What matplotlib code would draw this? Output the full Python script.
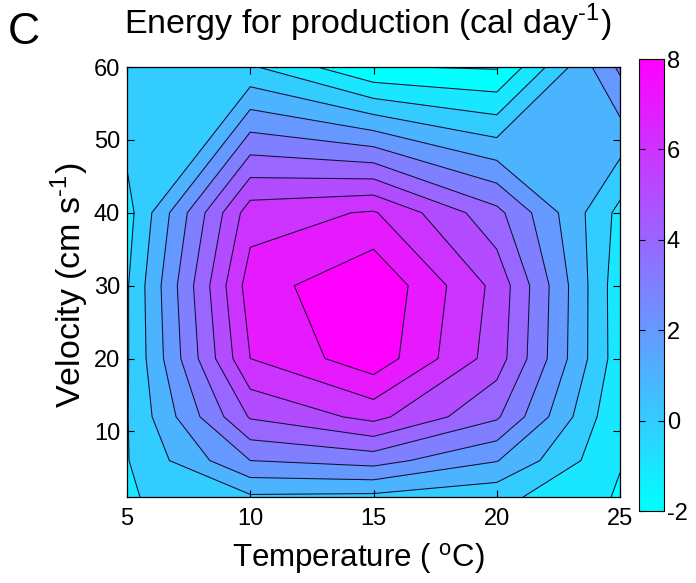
import numpy as np
import matplotlib
matplotlib.use("Agg")
import matplotlib.pyplot as plt
from matplotlib.colors import ListedColormap, BoundaryNorm, Normalize
from matplotlib.cm import ScalarMappable

plt.rcParams["font.family"] = ["Liberation Sans", "DejaVu Sans"]
plt.rcParams["axes.unicode_minus"] = False

# Model grid
temperature = [5, 10, 15, 20, 25]          # deg C
velocity = [1, 6, 12, 20, 30, 40, 60]      # cm s^-1

# Energy available for production (cal day^-1); rows follow velocity, columns temperature
energy = np.array([
    [-0.10, 0.85, 0.75, 0.30, -1.10],
    [-0.05, 3.00, 3.40, 2.05, -0.95],
    [-0.05, 5.10, 6.30, 4.15, -0.95],
    [-0.10, 7.00, 8.65, 5.50, -0.60],
    [-0.10, 7.50, 8.90, 5.70, -0.65],
    [-0.40, 6.55, 7.10, 4.30, -0.30],
    [0.95, 0.13, -1.95, -2.10, 3.20],
])

levels = np.arange(-2, 9)   # contour levels, -2 ... 8
cbar_ticks = [-2, 0, 2, 4, 6, 8]
clim = (-2, 8)

W, H = 696, 583
fig = plt.figure(figsize=(W / 100, H / 100), dpi=100)


def fx(px):
    return px / W


def fy(py):
    return 1 - py / H


ax = fig.add_axes([fx(127), fy(497), fx(620) - fx(127), fy(67) - fy(497)])

# each filled band takes the colour of its lower level
cool = plt.get_cmap("cool")
band_colors = [cool((lv - clim[0]) / (clim[1] - clim[0])) for lv in levels[:-1]]
band_cmap = ListedColormap(band_colors)
band_cmap.set_under(cool(0.0))
band_cmap.set_over(cool(1.0))
band_norm = BoundaryNorm(levels, band_cmap.N)

T, V = np.meshgrid(temperature, velocity)
ax.contourf(T, V, energy, levels=levels, cmap=band_cmap, norm=band_norm,
            extend="both")
ax.contour(T, V, energy, levels=levels, colors="#101030", linewidths=0.75,
           linestyles="solid")

ax.set_xlim(5, 25)
ax.set_ylim(1, 60)
ax.set_xticks([5, 10, 15, 20, 25])
ax.set_yticks([10, 20, 30, 40, 50, 60])
ax.tick_params(direction="in", top=True, right=True, length=5, width=0.8,
               labelsize=17, colors="black")
ax.tick_params(axis="x", pad=8)
ax.tick_params(axis="y", pad=5)
for s in ax.spines.values():
    s.set_linewidth(0.9)

# colour bar
cax = fig.add_axes([fx(639), fy(511), fx(664) - fx(639), fy(59) - fy(511)])
sm = ScalarMappable(norm=Normalize(*clim), cmap=cool)
cb = fig.colorbar(sm, cax=cax)
cb.set_ticks(cbar_ticks)
cb.set_ticklabels([str(t) for t in cbar_ticks])
cax.tick_params(direction="in", left=True, right=True, labelleft=False,
                labelright=True, length=4, width=0.8, labelsize=17, pad=2)
cb.outline.set_linewidth(0.8)

# text
fig.text(fx(124), fy(34), "Energy for production (cal day$^{\\mathregular{\u20101}}$)",
         fontsize=24.5, ha="left", va="baseline")
fig.text(fx(8), fy(44), "C", fontsize=32, ha="left", va="baseline")
fig.text(fx(232), fy(567), r"Temperature ( $^{\mathregular{o}}$C)",
         fontsize=22.5, ha="left", va="baseline")
fig.text(fx(81), fy(408), "Velocity (cm s$^{\\mathregular{\u20101}}$)",
         fontsize=24.5, ha="left", va="baseline", rotation=90,
         rotation_mode="anchor")

fig.savefig("out.png", dpi=100)
